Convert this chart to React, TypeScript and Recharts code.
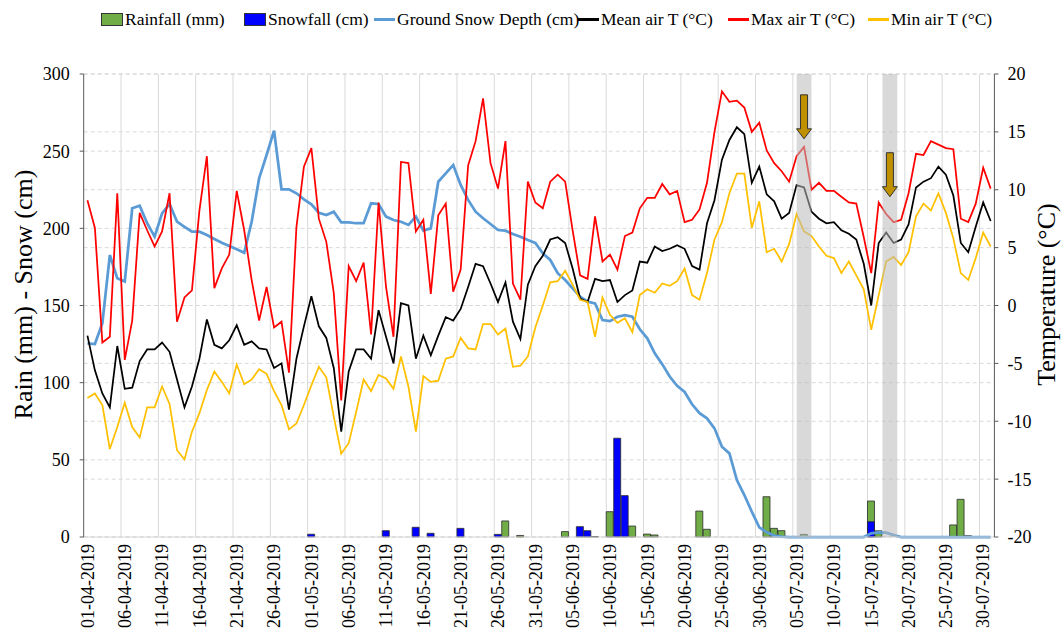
import React from "react";
import { ComposedChart, Bar, Line, XAxis, YAxis, CartesianGrid, ReferenceLine, Label } from "recharts";

// 01-04-2019 .. 31-07-2019, one row per day
const monthDays: [string, number][] = [["04", 30], ["05", 31], ["06", 30], ["07", 31]];
const dates: string[] = monthDays.flatMap(([m, n]) =>
  Array.from({ length: n }, (_, d) => `${String(d + 1).padStart(2, "0")}-${m}-2019`)
);
const tickDates = [
  "01-04-2019", "06-04-2019", "11-04-2019", "16-04-2019", "21-04-2019", "26-04-2019",
  "01-05-2019", "06-05-2019", "11-05-2019", "16-05-2019", "21-05-2019", "26-05-2019", "31-05-2019",
  "05-06-2019", "10-06-2019", "15-06-2019", "20-06-2019", "25-06-2019", "30-06-2019",
  "05-07-2019", "10-07-2019", "15-07-2019", "20-07-2019", "25-07-2019", "30-07-2019",
];

const rainfall = [
  0, 0, 0, 0, 0, 0, 0, 0, 0, 0, 0, 0, 0, 0, 0, 0, 0, 0, 0, 0, 0, 0, 0, 0, 0, 0, 0, 0, 0, 0,
  0, 0, 0, 0, 0, 0, 0, 0, 0, 0, 0, 0, 0, 0, 0, 0, 0, 0, 0, 0, 0, 0, 0, 0, 0, 0, 10.4, 0, 1.0, 0, 0,
  0, 0, 0, 3.5, 0, 0, 0, 0.3, 0, 16.4, 0, 0, 7.1, 0, 1.9, 1.3, 0, 0, 0, 0, 0, 16.8, 5.0, 0, 0, 0, 0, 0, 0,
  0, 26.1, 5.6, 4.1, 0, 0, 1.7, 0, 0, 0, 0, 0, 0, 0, 0, 23.3, 4.0, 0, 0, 0, 0, 0, 0, 0, 0, 0, 7.8, 24.4, 0.8, 0, 0,
];
const snowfall = [
  0, 0, 0, 0, 0, 0, 0, 0, 0, 0, 0, 0, 0, 0, 0, 0, 0, 0, 0, 0, 0, 0, 0, 0, 0, 0, 0, 0, 0, 0,
  1.8, 0, 0, 0, 0, 0, 0, 0, 0, 0, 4.1, 0, 0, 0, 6.3, 0, 2.4, 0, 0, 0, 5.6, 0, 0, 0, 0, 1.7, 0, 0, 0, 0, 0,
  0, 0, 0, 0, 0, 6.7, 4.1, 0, 0, 0, 64.0, 26.8, 0, 0, 0, 0, 0, 0, 0, 0, 0, 0, 0, 0, 0, 0, 0, 0, 0,
  0, 0, 0, 0, 0, 0, 0, 0, 0, 0, 0, 0, 0, 0, 0, 9.9, 0, 0, 0, 0, 0, 0, 0, 0, 0, 0, 0, 0, 0, 0, 0,
];
const snowDepth = [
  125.5, 125, 138.5, 182.7, 167.6, 165.5, 213, 214.7, 203.3, 194.6,
  209.7, 215.8, 204.3, 201, 197.8, 197.8, 195.7, 193.1, 190.7, 188.6,
  186.4, 184.2, 204.3, 232.4, 247.5, 263.3, 225.3, 225.3, 222.7, 218.8,
  215.5, 210.1, 208.6, 210.8, 203.9, 203.9, 203.3, 203.3, 216.2, 215.8,
  207.6, 205.4, 204.3, 202.2, 207.6, 198.5, 200, 230.2, 235.6, 241,
  228.1, 218.4, 210.8, 206.5, 202.8, 198.9, 198.5, 196.3, 194.6, 192.4,
  190.5, 183.8, 179.5, 170.9, 166.5, 161.1, 155.7, 152.5, 151.4, 140.6,
  139.9, 142.7, 143.8, 142.7, 134.6, 128.7, 119, 112, 104, 98,
  94, 86, 80.2, 76.9, 70.4, 58.5, 54.2, 36.9, 27.2, 16.4,
  6.3, 3.0, 0.9, 0.2, 0, 0, 0, 0, 0, 0,
  0, 0, 0, 0, 0, 2.4, 3.0, 2.8, 1.2, 0,
  0, 0, 0, 0, 0, 0, 0, 0, 0, 0, 0, 0,
];
const meanT = [
  -2.6, -5.6, -7.6, -8.8, -3.5, -7.2, -7.1, -4.8, -3.8, -3.8,
  -3.2, -4.0, -6.4, -8.8, -7.0, -4.6, -1.2, -3.4, -3.7, -3.0,
  -1.7, -3.4, -3.1, -3.7, -3.8, -5.4, -5.0, -9.0, -4.6, -1.8,
  0.8, -1.8, -2.8, -5.4, -10.9, -5.7, -3.8, -3.8, -4.6, -0.4,
  -2.7, -5.0, 0.2, 0.0, -4.6, -2.6, -4.3, -2.6, -1.0, -1.3,
  -0.3, 1.6, 3.6, 3.4, 1.9, 0.3, 2.0, -1.4, -2.9, 1.8,
  3.4, 4.3, 5.7, 5.9, 5.4, 3.2, 0.6, 0.3, 2.3, 2.1,
  2.2, 0.3, 0.9, 1.3, 3.8, 3.7, 5.1, 4.7, 4.9, 5.2,
  4.9, 3.4, 3.1, 7.1, 9.1, 12.6, 14.3, 15.4, 14.8, 10.6,
  12.0, 9.6, 9.0, 7.5, 8.0, 10.4, 10.2, 8.1, 7.5, 7.1,
  7.2, 6.5, 6.2, 5.7, 3.6, 0.0, 5.4, 6.3, 5.4, 5.7,
  7.0, 10.2, 10.7, 11.0, 12.0, 11.3, 9.5, 5.4, 4.6, 6.8,
  8.9, 7.3,
];
const maxT = [
  9.1, 6.7, -3.2, -2.7, 9.7, -4.7, -1.3, 8.0, 6.5, 5.1,
  6.4, 9.7, -1.4, 0.7, 1.3, 8.2, 12.9, 1.5, 3.2, 4.4,
  9.9, 6.5, 2.2, -1.3, 1.6, -1.9, -1.4, -5.8, 6.8, 12.0,
  13.6, 7.5, 5.5, 1.1, -8.2, 3.4, 2.1, 3.7, -2.5, 8.9,
  1.6, -2.7, 12.4, 12.3, 6.4, 7.4, 1.0, 7.8, 8.8, 1.2,
  3.1, 12.1, 14.2, 17.9, 12.3, 10.1, 14.2, 1.9, 0.5, 10.7,
  8.9, 8.4, 10.7, 11.3, 10.7, 6.5, 2.6, 2.3, 7.7, 3.8,
  4.4, 3.1, 6.0, 6.3, 8.4, 9.3, 9.3, 10.5, 9.6, 9.9,
  7.2, 7.4, 8.3, 10.6, 15.0, 18.5, 17.6, 17.7, 17.1, 15.0,
  15.8, 13.4, 12.3, 11.6, 10.7, 12.9, 13.7, 10.0, 10.6, 9.9,
  9.9, 9.4, 8.9, 8.8, 5.9, 2.8, 8.9, 7.9, 7.2, 7.4,
  9.7, 13.1, 13.0, 14.2, 13.9, 13.6, 13.5, 7.5, 7.2, 8.8,
  11.9, 10.1,
];
const minT = [
  -8.0, -7.6, -8.6, -12.4, -10.5, -8.4, -10.5, -11.4, -8.8, -8.8,
  -7.0, -8.5, -12.5, -13.3, -10.9, -9.3, -7.3, -5.7, -6.6, -7.6,
  -5.1, -6.8, -6.4, -5.5, -5.9, -7.4, -8.6, -10.7, -10.2, -8.6,
  -6.9, -5.3, -6.2, -9.6, -12.8, -11.9, -9.2, -6.4, -7.4, -6.0,
  -6.3, -7.2, -4.4, -7.0, -10.9, -6.1, -6.6, -6.5, -4.6, -4.4,
  -2.8, -3.7, -3.8, -1.6, -1.6, -2.5, -2.0, -5.3, -5.2, -4.4,
  -1.9, 0.0, 2.0, 2.1, 3.0, 1.8, 0.5, 0.3, -2.7, 0.7,
  -0.8, -1.5, -1.1, -2.3, 0.9, 1.4, 1.1, 1.9, 1.7, 2.1,
  3.2, 0.9, 0.5, 2.8, 5.7, 7.2, 9.7, 11.4, 11.4, 6.7,
  9.0, 4.6, 4.9, 3.8, 5.3, 7.9, 6.4, 6.0, 5.1, 4.3,
  4.1, 2.8, 3.8, 2.6, 1.4, -2.1, 0.9, 3.8, 4.2, 3.5,
  4.6, 7.7, 8.8, 8.2, 9.7, 8.0, 5.8, 2.8, 2.2, 4.1,
  6.3, 5.1,
];

const leftTicks = [0, 50, 100, 150, 200, 250, 300];
const rightTicks = [-20, -15, -10, -5, 0, 5, 10, 15, 20];
// highlighted days (grey band + arrow); arrow runs from topT down to tipT (°C)
const highlights: { date: string; position: "start" | "middle"; topT: number; tipT: number }[] = [
  { date: "06-07-2019", position: "middle", topT: 18.2, tipT: 14.4 },
  { date: "18-07-2019", position: "start", topT: 13.2, tipT: 9.4 },
];

const rows = dates.map((date, i) => ({
  date,
  rain: rainfall[i],
  snow: snowfall[i],
  depth: snowDepth[i],
  mean: meanT[i],
  max: maxT[i],
  min: minT[i],
}));

const FONT = '"Liberation Serif", "Times New Roman", serif';

const DateTick = ({ x, y, payload }: any) => (
  <text x={x} y={y - 1} transform={`rotate(-90 ${x} ${y - 1})`} textAnchor="end" dy="0.35em"
    fontSize={18} fontFamily={FONT} fill="#000">{payload.value}</text>
);

const Arrow = ({ x1, y1, x2, y2 }: any) => {
  if (x1 == null || y1 == null || y2 == null) return null;
  const cx = x1, top = Math.min(y1, y2), tip = Math.max(y1, y2);
  const hw = 7.5, sw = 3.5, hh = 10;
  const pts = [[cx - sw, top], [cx + sw, top], [cx + sw, tip - hh], [cx + hw, tip - hh], [cx, tip], [cx - hw, tip - hh], [cx - sw, tip - hh]];
  return <polygon points={pts.map((p) => p.join(",")).join(" ")} fill="#BF9000" stroke="#333" strokeWidth={1} />;
};

const AxisTitle = ({ viewBox, text, side }: any) => {
  if (!viewBox) return null;
  const cy = viewBox.y + viewBox.height / 2 - 11;
  const cx = side === "left" ? 23 : 1046;
  return (
    <text x={cx} y={cy} transform={`rotate(-90 ${cx} ${cy})`} textAnchor="middle" dominantBaseline="central"
      fontSize={26} fontFamily={FONT} fill="#000">{text}</text>
  );
};

const legendItems = [
  { left: 101, kind: "box", color: "#70AD47", label: "Rainfall (mm)" },
  { left: 244, kind: "box", color: "#0000FF", label: "Snowfall (cm)" },
  { left: 374, kind: "line", color: "#5B9BD5", label: "Ground Snow Depth (cm)" },
  { left: 578, kind: "line", color: "#000000", label: "Mean air T (°C)" },
  { left: 728, kind: "line", color: "#FF0000", label: "Max air T (°C)" },
  { left: 868, kind: "line", color: "#FFC000", label: "Min air T (°C)" },
];

export default function App() {
  return (
    <div style={{ position: "absolute", left: 0, top: 0, width: 1061, height: 635, background: "#fff", fontFamily: FONT }}>
      <div style={{ position: "absolute", left: 0, top: 0, width: 1061, height: 40 }}>
        {legendItems.map((it) => (
          <div key={it.label} style={{ position: "absolute", left: it.left, top: 8, height: 22, display: "flex", alignItems: "center", whiteSpace: "nowrap", fontSize: 17.5, color: "#000" }}>
            {it.kind === "box" ? (
              <span style={{ display: "inline-block", width: 20, height: 11, background: it.color, border: "1px solid #333", marginRight: 2 }} />
            ) : (
              <span style={{ display: "inline-block", width: 21, height: 3, background: it.color, marginRight: 2 }} />
            )}
            {it.label}
          </div>
        ))}
      </div>
      <ComposedChart width={1061} height={635} data={rows} margin={{ top: 74, right: 26.6, bottom: 0, left: 23.7 }}
        barCategoryGap={0} barGap={0}>
        <XAxis xAxisId="s" dataKey="date" hide />
        <XAxis xAxisId="d" dataKey="date" ticks={tickDates} interval={0} height={98} tickLine={false} tick={<DateTick />}
          axisLine={{ stroke: "#D9D9D9" }} />
        <YAxis yAxisId="l" domain={[0, 300]} ticks={leftTicks} width={60} tickSize={4} tickMargin={10}
          axisLine={{ stroke: "#595959" }} tickLine={{ stroke: "#595959" }}
          tick={{ fontSize: 18, fontFamily: FONT, fill: "#000" }}>
          <Label content={(p: any) => <AxisTitle {...p} side="left" text="Rain (mm) - Snow (cm)" />} />
        </YAxis>
        <YAxis yAxisId="t" orientation="right" domain={[-20, 20]} ticks={rightTicks} width={40} tickSize={4} tickMargin={9}
          axisLine={{ stroke: "#595959" }} tickLine={{ stroke: "#595959" }}
          tick={{ fontSize: 18, fontFamily: FONT, fill: "#000" }}>
          <Label content={(p: any) => <AxisTitle {...p} side="right" text="Temperature (°C)" />} />
        </YAxis>
        <CartesianGrid xAxisId="d" yAxisId="l" vertical={false} stroke="#D9D9D9" strokeDasharray="4 3" />
        <CartesianGrid xAxisId="d" yAxisId="t" vertical={false} stroke="#D9D9D9" strokeDasharray="4 3" />
        {tickDates.slice(1).map((d) => (
          <ReferenceLine key={d} xAxisId="d" yAxisId="l" x={d} position="start" stroke="#D9D9D9" strokeWidth={1} zIndex={-100} />
        ))}
        <Bar xAxisId="d" yAxisId="l" dataKey="rain" fill="#70AD47" stroke="#2b2b2b" strokeWidth={0.8} isAnimationActive={false} />
        <Bar xAxisId="s" yAxisId="l" dataKey="snow" fill="#0000FF" stroke="#2b2b2b" strokeWidth={0.8} isAnimationActive={false} />
        <Line xAxisId="d" yAxisId="l" dataKey="depth" stroke="#5B9BD5" strokeWidth={2.75} dot={false} isAnimationActive={false} />
        <Line xAxisId="d" yAxisId="t" dataKey="mean" stroke="#000000" strokeWidth={1.75} dot={false} isAnimationActive={false} />
        <Line xAxisId="d" yAxisId="t" dataKey="max" stroke="#FF0000" strokeWidth={1.75} dot={false} isAnimationActive={false} />
        <Line xAxisId="d" yAxisId="t" dataKey="min" stroke="#FFC000" strokeWidth={1.75} dot={false} isAnimationActive={false} />
        {highlights.map((h) => (
          <ReferenceLine key={"band" + h.date} xAxisId="d" yAxisId="l" x={h.date} position={h.position}
            stroke="#bababa" strokeOpacity={0.55} strokeWidth={14.8} zIndex={600} />
        ))}
        {highlights.map((h) => (
          <ReferenceLine key={"arrow" + h.date} xAxisId="d" yAxisId="t" position={h.position}
            segment={[{ x: h.date, y: h.topT }, { x: h.date, y: h.tipT }]} shape={(p: any) => <Arrow {...p} />} zIndex={700} />
        ))}
      </ComposedChart>
    </div>
  );
}
